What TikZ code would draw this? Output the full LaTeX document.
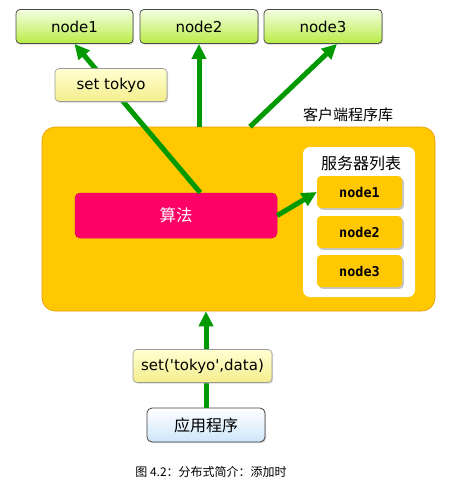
\documentclass[tikz,border=0pt]{standalone}
\usepackage{fontspec}
\setmainfont{DejaVu Sans}
\setmonofont{DejaVu Sans Mono}
\newfontfamily\cjk{Noto Sans CJK SC}
\newfontfamily\plainfont{DejaVu Sans}[Ligatures=TeXOff]
\usepackage{tikz}
\usetikzlibrary{arrows.meta,positioning,calc,shadows}
\definecolor{cTop}{HTML}{F4FFE2}
\definecolor{cTopB}{HTML}{B8EC45}
\definecolor{cTag}{HTML}{FFFFD2}
\definecolor{cTagB}{HTML}{F4EE8C}
\definecolor{cLib}{HTML}{FFC800}
\definecolor{cLibB}{HTML}{E89A00}
\definecolor{cAlg}{HTML}{FF0066}
\definecolor{cApp}{HTML}{CDE6FA}
\definecolor{cArr}{HTML}{009A00}
\tikzset{
  tnode/.style={draw=black!70, line width=0.8pt, rounded corners=4pt, top color=cTop,
                bottom color=cTopB, minimum width=117pt, minimum height=34pt,
                font=\fontsize{15}{17}\selectfont,
                drop shadow={shadow xshift=1.2pt, shadow yshift=-1.2pt, fill=black!35}},
  tag/.style={draw=black!40, line width=0.6pt, rounded corners=4pt, top color=cTag,
              bottom color=cTagB, minimum height=33pt, font=\fontsize{15}{17}\selectfont,
              drop shadow={shadow xshift=1.2pt, shadow yshift=-1.2pt, fill=black!30}},
  snode/.style={fill=cLib, rounded corners=4pt, minimum width=85pt, minimum height=32pt,
                font=\ttfamily\bfseries\fontsize{13.5}{15}\selectfont,
                drop shadow={shadow xshift=1.8pt, shadow yshift=-1.8pt, fill=black!45}},
  garr/.style={-{Triangle[length=15pt,width=14pt]}, line width=5pt, draw=cArr},
  clbl/.style={font=\cjk\fontsize{15}{17}\selectfont},
}
\begin{document}
\begin{tikzpicture}[x=1pt,y=1pt]
\useasboundingbox (0,0) rectangle (457,-485);
% ---- storage nodes
\node[tnode] (n1) at (74.5,-26.5) {node1};
\node[tnode, minimum width=118pt] (n2) at (199,-26.5) {node2};
\node[tnode, minimum width=118pt] (n3) at (323,-26.5) {node3};
% ---- client library
\node[fill=cLib, draw=cLibB, line width=0.6pt, rounded corners=13pt,
      minimum width=393pt, minimum height=184pt] (lib) at (238.5,-219) {};
\node[clbl] (liblbl) at (348,-115) {客户端程序库};
\node[fill=cAlg, draw=cAlg!90!black, line width=0.5pt, rounded corners=5pt,
      minimum width=202pt, minimum height=45pt, text=white,
      font=\cjk\fontsize{16.5}{18}\selectfont] (algo) at (176,-215.5) {算法};
\node[fill=white, rounded corners=7pt, minimum width=112pt, minimum height=150pt]
  (srv) at (359,-222) {};
\node[clbl, font=\cjk\fontsize{16}{18}\selectfont] (srvlbl) at (361,-163) {服务器列表};
\node[snode] (s1) at (359.5,-192) {node1};
\node[snode] (s2) at (359.5,-232) {node2};
\node[snode] (s3) at (359.5,-271) {node3};
% ---- application
\node[draw=black!75, line width=0.8pt, rounded corners=5pt, top color=white,
      bottom color=cApp, minimum width=118pt, minimum height=34pt,
      font=\cjk\fontsize{16}{18}\selectfont,
      drop shadow={shadow xshift=1.2pt, shadow yshift=-1.2pt, fill=black!30}]
  (app) at (206,-425) {应用程序};
% ---- arrows
\coordinate (a1) at ($(algo.north west)!0.62!(algo.north east)$);
\coordinate (a3) at ($(lib.north)+(11.5,0)$);
\draw[garr] (a1) -- (n1.south);
\draw[garr] (n2.south |- lib.north) -- (n2.south);
\draw[garr] (a3) -- ($(n3.south)+(14,0)$);
\draw[garr] (algo.east) -- (s1.west);
\draw[garr] (app.north) -- (app.north |- lib.south);
% ---- labels on top of the arrows
\node[tag, minimum width=112pt] (setk) at (111,-85) {set tokyo};
\node[tag, minimum width=139pt, font=\plainfont\fontsize{15}{17}\selectfont]
  (setd) at (202.5,-366) {set('tokyo',data)};
\node[font=\cjk\fontsize{12}{14}\selectfont] (cap) at (211,-472)
  {图 4.2：分布式简介：添加时};
\end{tikzpicture}
\end{document}
